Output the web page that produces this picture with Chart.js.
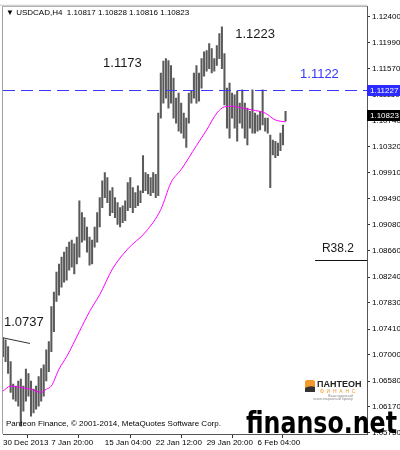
<!DOCTYPE html>
<html>
<head>
<meta charset="utf-8">
<script src="https://cdn.jsdelivr.net/npm/chart.js@4.4.0/dist/chart.umd.min.js"></script>
<style>
  html, body { margin: 0; padding: 0; background: #fff; }
  #wrap { width: 400px; height: 450px; }
</style>
</head>
<body>
<div id="wrap"><canvas id="chart" width="400" height="450"></canvas></div>
<script>
// USDCAD H4 bars, index 0 = 30 Dec 2013 00:00
const highs = [
  1.0727, 1.0724, 1.0713, 1.0689, 1.0653, 1.0650, 1.0658, 1.0661, 1.0650, 1.0677,
  1.0670, 1.0658, 1.0645, 1.0650, 1.0665, 1.0678, 1.0684, 1.0708, 1.0721, 1.0777,
  1.0800, 1.0832, 1.0845, 1.0856, 1.0864, 1.0872, 1.0880, 1.0883, 1.0877, 1.0888,
  1.0946, 1.0927, 1.0919, 1.0904, 1.0888, 1.0883, 1.0904, 1.0927, 1.0951, 1.0978,
  1.0991, 1.0983, 1.0962, 1.0967, 1.0951, 1.0943, 1.0935, 1.0938, 1.0946, 1.0975,
  1.0983, 1.0967, 1.0959, 1.0970, 1.0962, 1.1018, 1.0991, 1.0988, 1.0983, 1.0991,
  1.0988, 1.1086, 1.1150, 1.1169, 1.1173, 1.1170, 1.1162, 1.1142, 1.1110, 1.1118,
  1.1102, 1.1086, 1.1078, 1.1118, 1.1121, 1.1150, 1.1162, 1.1150, 1.1173, 1.1184,
  1.1186, 1.1197, 1.1189, 1.1173, 1.1194, 1.1213, 1.1224, 1.1181, 1.1126, 1.1134,
  1.1118, 1.1115, 1.1121, 1.1102, 1.1123, 1.1102, 1.1094, 1.1089, 1.1123, 1.1086,
  1.1083, 1.1089, 1.1123, 1.1078, 1.1078, 1.1051, 1.1043, 1.1041, 1.1038, 1.1054,
  1.1067, 1.1089
];
const lows = [
  1.0697, 1.0689, 1.0670, 1.0640, 1.0629, 1.0626, 1.0618, 1.0586, 1.0610, 1.0626,
  1.0634, 1.0602, 1.0607, 1.0613, 1.0618, 1.0626, 1.0634, 1.0658, 1.0673, 1.0705,
  1.0737, 1.0785, 1.0795, 1.0808, 1.0816, 1.0819, 1.0835, 1.0840, 1.0829, 1.0845,
  1.0856, 1.0880, 1.0883, 1.0864, 1.0843, 1.0845, 1.0872, 1.0880, 1.0904, 1.0935,
  1.0951, 1.0943, 1.0922, 1.0927, 1.0919, 1.0908, 1.0904, 1.0911, 1.0914, 1.0930,
  1.0935, 1.0927, 1.0935, 1.0938, 1.0943, 1.0959, 1.0962, 1.0957, 1.0954, 1.0959,
  1.0951, 1.0954, 1.1078, 1.1102, 1.1110, 1.1094, 1.1102, 1.1078, 1.1070, 1.1057,
  1.1054, 1.1046, 1.1031, 1.1070, 1.1102, 1.1110, 1.1102, 1.1105, 1.1126, 1.1145,
  1.1153, 1.1157, 1.1150, 1.1153, 1.1162, 1.1173, 1.1157, 1.1099, 1.1062, 1.1046,
  1.1078, 1.1062, 1.1041, 1.1070, 1.1062, 1.1046, 1.1035, 1.1062, 1.1054, 1.1054,
  1.1057, 1.1059, 1.1067, 1.1057, 1.1054, 1.0967, 1.1019, 1.1015, 1.1018, 1.1026,
  1.1035, 1.1073
];
// moving average (magenta)
const maIdx = [0, 3, 8, 11, 15, 17, 19, 22, 25, 30, 34, 38, 43, 49, 56, 62, 66, 70, 76, 80, 84, 87, 90, 94, 98, 103, 107, 111];
const maVals = [1.0642, 1.0650, 1.0647, 1.0645, 1.0640, 1.0645, 1.0650, 1.0677, 1.0697, 1.0737, 1.0769, 1.0796, 1.0837, 1.0869,
  1.0896, 1.0932, 1.0975, 1.0996, 1.1034, 1.1059, 1.1086, 1.1096, 1.1097, 1.1094, 1.1091, 1.1086, 1.1075, 1.1072];

const yTicks = [1.12400, 1.11990, 1.11570, 1.11150, 1.10740, 1.10320, 1.09910, 1.09490, 1.09080,
  1.08660, 1.08240, 1.07830, 1.07410, 1.07000, 1.06580, 1.06170, 1.05750];
const xTickIdx = [0, 19, 40, 60, 80, 100];
const xTickLabels = ['30 Dec 2013', '7 Jan 20:00', '15 Jan 04:00', '22 Jan 12:00', '29 Jan 20:00', '6 Feb 04:00'];

const bidLine = 1.11227;
const lastPrice = 1.10823;
const r382 = 1.0851;

const notes = [
  { text: '1.1173', i: 39.3, p: 1.1165, color: '#1a1a1a', size: 13 },
  { text: '1.1223', i: 91.2, p: 1.1211, color: '#1a1a1a', size: 13 },
  { text: '1.1122', i: 116.7, p: 1.1147, color: '#3535ff', size: 13 },
  { text: '1.0737', i: 0.4, p: 1.0751, color: '#1a1a1a', size: 13 },
  { text: 'R38.2', i: 125.3, p: 1.0869, color: '#1a1a1a', size: 12 }
];

const FONT = '"Liberation Sans", Arial, sans-serif';

const overlay = {
  id: 'overlay',
  afterDatasetsDraw(chart) {
    const { ctx, chartArea: a, scales: { x, y } } = chart;
    ctx.save();
    ctx.beginPath();
    ctx.rect(a.left, a.top, a.right - a.left, a.bottom - a.top);
    ctx.clip();

    // dashed level line
    const yb = Math.round(y.getPixelForValue(bidLine)) + 0.5;
    ctx.strokeStyle = '#3b3bff';
    ctx.lineWidth = 1;
    ctx.setLineDash([12, 6]);
    ctx.beginPath(); ctx.moveTo(a.left, yb); ctx.lineTo(a.right, yb); ctx.stroke();
    ctx.setLineDash([]);

    // R38.2 level
    const yr = Math.round(y.getPixelForValue(r382)) + 0.5;
    ctx.strokeStyle = '#111';
    ctx.beginPath(); ctx.moveTo(x.getPixelForValue(122.6), yr); ctx.lineTo(a.right, yr); ctx.stroke();

    // short trend line near 1.0737
    ctx.strokeStyle = '#333';
    ctx.beginPath();
    ctx.moveTo(x.getPixelForValue(0), y.getPixelForValue(1.0727));
    ctx.lineTo(x.getPixelForValue(10.6), y.getPixelForValue(1.0718));
    ctx.stroke();

    // text notes
    ctx.textBaseline = 'middle';
    ctx.textAlign = 'left';
    notes.forEach(n => {
      ctx.font = n.size + 'px ' + FONT;
      ctx.fillStyle = n.color;
      ctx.fillText(n.text, x.getPixelForValue(n.i), y.getPixelForValue(n.p));
    });

    // header + copyright
    ctx.fillStyle = '#000';
    ctx.font = '8px ' + FONT;
    ctx.fillText('\u25BC USDCAD,H4  1.10817 1.10828 1.10816 1.10823', a.left + 3, a.top + 6);
    ctx.fillText('Panteon Finance, \u00A9 2001-2014, MetaQuotes Software Corp.', a.left + 3, a.bottom - 10);

    // Panteon logo
    ctx.fillStyle = '#f29a2e';
    ctx.beginPath();
    ctx.roundRect(305, 380, 10, 12, 2);
    ctx.fill();
    ctx.fillStyle = '#333';
    ctx.beginPath();
    ctx.moveTo(305, 388); ctx.quadraticCurveTo(310, 385, 315, 387); ctx.lineTo(315, 392); ctx.lineTo(305, 392);
    ctx.fill();
    ctx.fillStyle = '#222';
    ctx.font = 'bold 9px ' + FONT;
    ctx.fillText('\u041F\u0410\u041D\u0422\u0415\u041E\u041D', 317, 385);
    ctx.fillStyle = '#f29a2e';
    ctx.font = '5px ' + FONT;
    ctx.fillText('\u0424  \u0418  \u041D  \u0410  \u041D  \u0421', 320, 392);
    ctx.fillStyle = '#888';
    ctx.font = '3.5px ' + FONT;
    ctx.textAlign = 'right';
    ctx.fillText('\u0412\u0430\u0448 \u043D\u0430\u0434\u0435\u0436\u043D\u044B\u0439', 353, 396);
    ctx.fillText('\u0438\u043D\u0432\u0435\u0441\u0442\u0438\u0446\u0438\u043E\u043D\u043D\u044B\u0439 \u0431\u0440\u043E\u043A\u0435\u0440', 353, 399.5);
    ctx.restore();
  },
  afterDraw(chart) {
    const { ctx, chartArea: a, scales: { y } } = chart;
    ctx.save();
    // frame top / left
    ctx.strokeStyle = '#a0a0a0';
    ctx.lineWidth = 1;
    ctx.beginPath();
    ctx.moveTo(a.left - 0.5, a.bottom); ctx.lineTo(a.left - 0.5, a.top - 0.5); ctx.lineTo(a.right, a.top - 0.5);
    ctx.stroke();
    ctx.strokeStyle = '#c8c8c8';
    ctx.beginPath();
    ctx.moveTo(0, a.top - 1.5); ctx.lineTo(a.right, a.top - 1.5);
    ctx.stroke();

    // price boxes on the axis
    const box = (v, bg) => {
      const py = Math.round(y.getPixelForValue(v));
      ctx.fillStyle = bg;
      ctx.fillRect(a.right, py - 5, 400 - a.right, 11);
      ctx.fillStyle = '#fff';
      ctx.font = '8px ' + FONT;
      ctx.textAlign = 'left';
      ctx.textBaseline = 'middle';
      ctx.fillText(v.toFixed(5), a.right + 3, py + 0.5);
    };
    box(bidLine, '#2b2bff');
    box(lastPrice, '#000');

    // watermark
    ctx.fillStyle = '#000';
    ctx.font = 'bold 31px "DejaVu Sans", sans-serif';
    ctx.textAlign = 'left';
    ctx.textBaseline = 'alphabetic';
    const w = ctx.measureText('finanso.net').width;
    ctx.translate(246, 433);
    ctx.scale(151 / w, 1);
    ctx.fillText('finanso.net', 0, 0);
    ctx.restore();
  }
};

const tickFont = { family: FONT, size: 8 };

new Chart(document.getElementById('chart'), {
  type: 'bar',
  data: {
    datasets: [
      {
        type: 'line',
        data: maIdx.map((v, k) => ({ x: v, y: maVals[k] })),
        borderColor: '#ff00ff',
        borderWidth: 1,
        pointRadius: 0,
        tension: 0.4,
        cubicInterpolationMode: 'monotone',
        order: 0
      },
      {
        type: 'bar',
        data: highs.map((h, i) => ({ x: i, y: [lows[i], h] })),
        backgroundColor: '#5a5a5a',
        borderWidth: 0,
        barThickness: 1.4,
        grouped: false,
        order: 1
      }
    ]
  },
  options: {
    responsive: false,
    animation: false,
    layout: { padding: { left: 3, top: 3, right: 0, bottom: 0 } },
    plugins: { legend: { display: false }, tooltip: { enabled: false } },
    scales: {
      x: {
        type: 'linear',
        min: 0,
        max: 143,
        offset: false,
        afterBuildTicks: s => { s.ticks = xTickIdx.map(v => ({ value: v })); },
        afterFit: s => { s.height = 16; },
        grid: { drawOnChartArea: false, drawTicks: true, tickLength: 4, color: '#333' },
        border: { color: '#555' },
        ticks: {
          align: 'start',
          maxRotation: 0,
          autoSkip: false,
          padding: 0,
          color: '#000',
          font: tickFont,
          callback: (v, idx) => xTickLabels[idx]
        }
      },
      y: {
        position: 'right',
        min: 1.05734,
        max: 1.12558,
        afterBuildTicks: s => { s.ticks = yTicks.map(v => ({ value: v })); },
        afterFit: s => { s.width = 33; },
        grid: { drawOnChartArea: false, tickLength: 3, color: '#333' },
        border: { color: '#555' },
        ticks: {
          padding: 2,
          color: '#000',
          font: tickFont,
          callback: v => v.toFixed(5)
        }
      }
    }
  },
  plugins: [overlay]
});
</script>
</body>
</html>
